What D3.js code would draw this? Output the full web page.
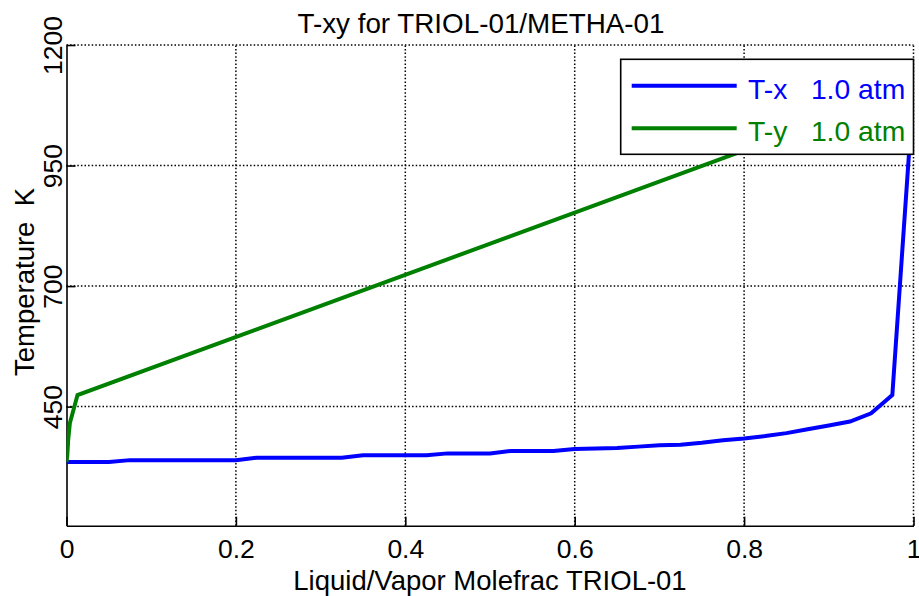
<!DOCTYPE html>
<html>
<head>
<meta charset="utf-8">
<script src="https://cdn.jsdelivr.net/npm/d3@7"></script>
<style>
  body { margin: 0; background: #fff; }
  svg { display: block; font-family: "Liberation Sans", Arial, sans-serif; }
</style>
</head>
<body>
<svg width="919" height="596"></svg>
<script>
// liquid composition (TRIOL-01) and bubble temperature, K
const liquidX = [0, 0.025, 0.05, 0.075, 0.1, 0.125, 0.15, 0.175, 0.2, 0.225, 0.25, 0.275, 0.3, 0.325,
  0.35, 0.375, 0.4, 0.425, 0.45, 0.475, 0.5, 0.525, 0.55, 0.575, 0.6, 0.625, 0.65, 0.675, 0.7, 0.725,
  0.75, 0.775, 0.8, 0.825, 0.85, 0.875, 0.9, 0.925, 0.95, 0.975, 1];
const liquidT = [335, 335, 335, 339, 339, 339, 339, 339, 339, 344, 344, 344, 344, 344,
  349, 349, 349, 349, 353, 353, 353, 358, 358, 358, 362, 363, 364, 367, 370, 371,
  375, 380, 384, 389, 395, 403, 411, 419, 436, 474, 1110];

// vapor composition (TRIOL-01) and dew temperature, K
const vaporY = [0, 0.001, 0.002, 0.004, 0.013, 1];
const vaporT = [335, 350, 381, 416, 474, 1110];

const xTicks = [0, 0.2, 0.4, 0.6, 0.8, 1];
const yTicks = [450, 700, 950, 1200];
const legendLabels = ['T-x   1.0 atm', 'T-y   1.0 atm'];
const colors = ['#0000ff', '#008000'];

const svg = d3.select('svg');

const x = d3.scaleLinear().domain([0, 1]).range([66.5, 913.5]);
const y = d3.scaleLinear().domain([203, 1200]).range([525.7, 45]);

// clip the curves to the axes box
svg.append('clipPath').attr('id', 'plot')
  .append('rect')
  .attr('x', x.range()[0]).attr('y', y.range()[1])
  .attr('width', x.range()[1] - x.range()[0])
  .attr('height', y.range()[0] - y.range()[1]);

// grid
const grid = svg.append('g')
  .attr('stroke', '#000')
  .attr('stroke-width', 1.5)
  .attr('stroke-dasharray', '1.5,2.1');
grid.selectAll('.gx').data(xTicks.filter(d => d > 0)).enter().append('line')
  .attr('x1', d => x(d)).attr('x2', d => x(d))
  .attr('y1', y.range()[0]).attr('y2', y.range()[1]);
grid.selectAll('.gy').data(yTicks).enter().append('line')
  .attr('x1', x.range()[0]).attr('x2', x.range()[1])
  .attr('y1', d => y(d)).attr('y2', d => y(d));

// axes (ticks inside)
const xAxis = svg.append('g')
  .attr('transform', `translate(0,${y.range()[0]})`)
  .call(d3.axisBottom(x).tickValues(xTicks).tickFormat(d3.format('')).tickSizeInner(-9).tickSizeOuter(0).tickPadding(13));
xAxis.select('.domain').attr('stroke-width', 1.6);
xAxis.selectAll('.tick line').attr('stroke-width', 1.6);
xAxis.selectAll('.tick text')
  .attr('font-size', 26.5).attr('fill', '#000')
  .attr('font-family', '"Liberation Sans", Arial, sans-serif');

const yAxis = svg.append('g')
  .attr('transform', `translate(${x.range()[0]},0)`)
  .call(d3.axisLeft(y).tickValues(yTicks).tickFormat(d3.format('d')).tickSizeInner(-9).tickSizeOuter(0));
yAxis.select('.domain').attr('stroke-width', 1.6);
yAxis.selectAll('.tick line').attr('stroke-width', 1.6);
yAxis.selectAll('.tick text')
  .attr('font-size', 26.5).attr('fill', '#000')
  .attr('font-family', '"Liberation Sans", Arial, sans-serif')
  .attr('x', null).attr('dy', null)
  .attr('text-anchor', 'middle')
  .attr('transform', 'translate(-5,0) rotate(-90)');

// curves
const line = d3.line().x(d => x(d[0])).y(d => y(d[1]));
const curves = svg.append('g').attr('clip-path', 'url(#plot)');
curves.append('path')
  .datum(liquidX.map((v, i) => [v, liquidT[i]]))
  .attr('d', line).attr('fill', 'none')
  .attr('stroke', colors[0]).attr('stroke-width', 4).attr('stroke-linejoin', 'miter');
curves.append('path')
  .datum(vaporY.map((v, i) => [v, vaporT[i]]))
  .attr('d', line).attr('fill', 'none')
  .attr('stroke', colors[1]).attr('stroke-width', 4).attr('stroke-linejoin', 'miter');

// title and labels
svg.append('text')
  .attr('x', 481).attr('y', 33)
  .attr('text-anchor', 'middle').attr('font-size', 27.8)
  .text('T-xy for TRIOL-01/METHA-01');
svg.append('text')
  .attr('x', 490).attr('y', 590)
  .attr('text-anchor', 'middle').attr('font-size', 27.5)
  .text('Liquid/Vapor Molefrac TRIOL-01');
svg.append('text')
  .attr('transform', 'translate(34,282) rotate(-90)')
  .attr('text-anchor', 'middle').attr('font-size', 27.5)
  .style('white-space', 'pre')
  .text('Temperature  K');

// legend
const legend = svg.append('g');
legend.append('rect')
  .attr('x', 620.7).attr('y', 59.3).attr('width', 292.8).attr('height', 95)
  .attr('fill', '#fff').attr('stroke', '#000').attr('stroke-width', 1.6);
const rows = legend.selectAll('.row').data(legendLabels).enter().append('g')
  .attr('transform', (d, i) => `translate(0,${85.7 + i * 42.6})`);
rows.append('line')
  .attr('x1', 631.7).attr('x2', 736.7)
  .attr('stroke', (d, i) => colors[i]).attr('stroke-width', 4);
rows.append('text')
  .attr('x', 748).attr('y', 12.8)
  .attr('font-size', 28.3)
  .attr('fill', (d, i) => colors[i])
  .style('white-space', 'pre')
  .text(d => d);
</script>
</body>
</html>
